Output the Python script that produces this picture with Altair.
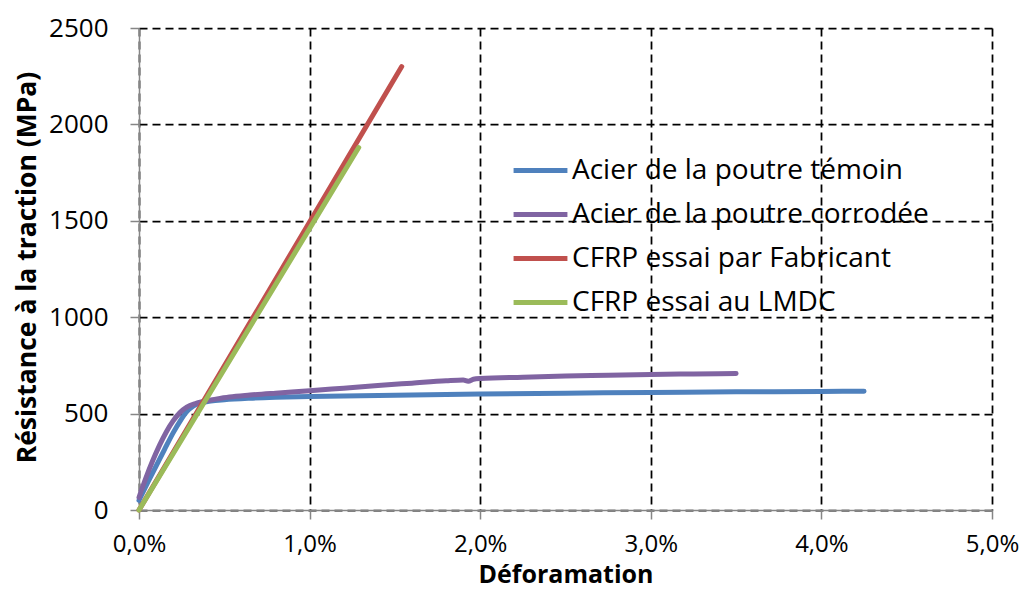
import altair as alt
import pandas as pd

series_names = [
    "Acier de la poutre témoin",
    "Acier de la poutre corrodée",
    "CFRP essai par Fabricant",
    "CFRP essai au LMDC",
]
series_colors = ["#4F81BD", "#8064A2", "#C0504D", "#9BBB59"]

# Déformation (%) / Résistance (MPa)
temoin_x = [0, 0.05, 0.1, 0.15, 0.2, 0.24, 0.28, 0.32, 0.37, 0.42, 0.5, 0.65, 0.8, 1.0, 1.3, 1.6, 2.0, 2.5, 3.0, 3.5, 4.0, 4.25]
temoin_y = [50, 140, 228, 315, 400, 460, 510, 540, 557, 565, 572, 580, 585, 589, 593, 597, 602, 606, 610, 613, 615, 616]

corrodee_x = [0, 0.04, 0.08, 0.12, 0.16, 0.2, 0.24, 0.28, 0.33, 0.37, 0.45, 0.53, 0.65, 0.8, 1.0, 1.2, 1.4, 1.6, 1.8, 1.9, 1.93, 1.96, 2.0, 2.25, 2.5, 2.75, 3.0, 3.25, 3.5]
corrodee_y = [65, 165, 255, 335, 405, 462, 505, 533, 552, 562, 575, 586, 596, 606, 618, 632, 646, 658, 670, 674, 668, 678, 682, 689, 695, 699, 703, 706, 708]

fabricant_x = [0, 1.54]
fabricant_y = [0, 2300]

lmdc_x = [0, 1.288]
lmdc_y = [0, 1880]

x_ticks = [0, 1, 2, 3, 4, 5]
y_ticks = [0, 500, 1000, 1500, 2000, 2500]

rows = []
for name, xs, ys in zip(series_names,
                        [temoin_x, corrodee_x, fabricant_x, lmdc_x],
                        [temoin_y, corrodee_y, fabricant_y, lmdc_y]):
    for i, (a, b) in enumerate(zip(xs, ys)):
        rows.append({"serie": name, "x": a, "y": b, "i": i})
df = pd.DataFrame(rows)

FONT = "Open Sans"

x_enc = alt.X(
    "x:Q",
    scale=alt.Scale(domain=[0, 5], nice=False, zero=True),
    axis=alt.Axis(
        values=x_ticks,
        labelExpr="replace(format(datum.value, '.1f'), '.', ',') + '%'",
        title="Déforamation",
        titleFontWeight="bold",
        titleFontSize=25,
        titleY=72,
        titleBaseline="alphabetic",
        labelFontSize=24,
        labelPadding=13,
        tickSize=9,
        labelFlush=False,
    ),
)
y_enc = alt.Y(
    "y:Q",
    scale=alt.Scale(domain=[0, 2500], nice=False),
    axis=alt.Axis(
        values=y_ticks,
        format="d",
        title="Résistance à la traction (MPa)",
        titleFontWeight="bold",
        titleFontSize=26.5,
        titleX=-98,
        titleY=239,
        labelFontSize=26,
        labelPadding=22,
        tickSize=9,
    ),
)
color_enc = alt.Color(
    "serie:N",
    scale=alt.Scale(domain=series_names, range=series_colors),
    legend=alt.Legend(
        title=None,
        orient="none",
        legendX=372,
        legendY=113,
        symbolType="stroke",
        symbolSize=2900,
        symbolStrokeWidth=5,
        labelFontSize=28,
        labelOffset=2,
        rowPadding=-9,
        labelLimit=600,
    ),
)

layers = []
for name in series_names:
    layers.append(
        alt.Chart(df)
        .transform_filter(alt.datum.serie == name)
        .mark_line(strokeWidth=5, strokeCap="round", strokeJoin="round", interpolate="monotone")
        .encode(x=x_enc, y=y_enc, color=color_enc, order="i:Q")
    )

chart = (
    alt.layer(*layers)
    .properties(
        width=853,
        height=482,
        autosize=alt.AutoSizeParams(type="none"),
        padding={"left": 131, "top": 20, "right": 27, "bottom": 74},
    )
    .configure(font=FONT)
    .configure_view(stroke=None)
    .configure_axis(
        grid=True,
        gridColor="black",
        gridDash=[8, 5],
        gridWidth=1.75,
        gridOpacity=1,
        domainColor="#868686",
        domainWidth=1.5,
        tickColor="#868686",
        tickWidth=1.5,
        labelColor="black",
        titleColor="black",
    )
    .configure_legend(labelColor="black")
)

chart.save("out.html", embed_options={"renderer": "svg", "actions": False})
